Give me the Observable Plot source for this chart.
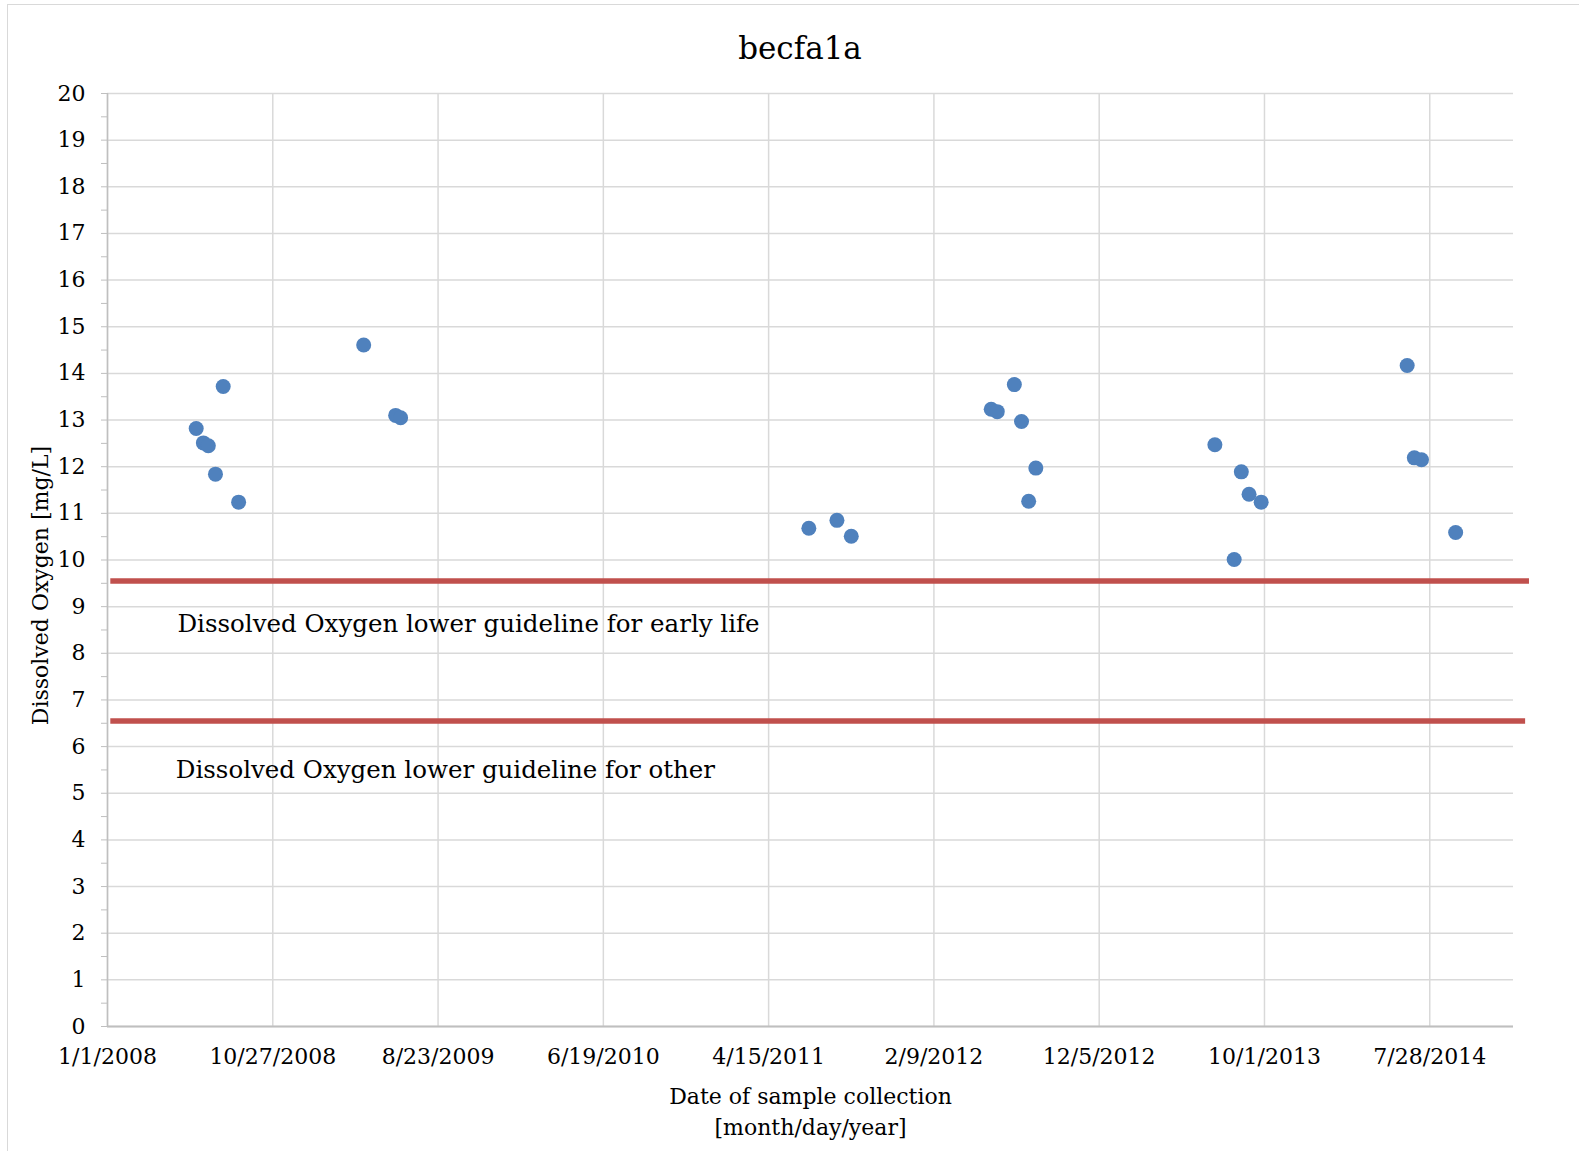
<!DOCTYPE html>
<html>
<head>
<meta charset="utf-8">
<script src="https://cdn.jsdelivr.net/npm/d3@7"></script>
<script src="https://cdn.jsdelivr.net/npm/@observablehq/plot@0.6"></script>
<style>
  html, body { margin: 0; padding: 0; background: #fff; }
  #page { position: relative; width: 1579px; height: 1151px; overflow: hidden; font-family: "DejaVu Serif", serif; }
  #frame { position: absolute; left: 7px; top: 4px; right: -10px; bottom: -10px; border-left: 1.5px solid #d9d9d9; border-top: 1.5px solid #d9d9d9; }
  #title { position: absolute; left: 0; top: 0; width: 1579px; height: 80px; }
  #title span { position: absolute; left: 800px; top: 33px; transform: translateX(-50%); font-size: 31px; line-height: 31px; color: #000; white-space: nowrap; }
  #chart { position: absolute; left: 0; top: 80px; }
</style>
</head>
<body>
<div id="page">
  <div id="frame"></div>
  <div id="title"><span>becfa1a</span></div>
  <div id="chart"></div>
</div>
<script>
// Sampling dates and dissolved oxygen readings (mg/L)
const sampleDates = [
  "2008-06-10", "2008-06-23", "2008-07-02", "2008-07-29", "2008-07-15", "2008-08-26",
  "2009-04-10", "2009-06-07", "2009-06-16",
  "2011-06-27", "2011-08-17", "2011-09-12",
  "2012-05-23", "2012-06-03", "2012-07-04", "2012-07-17", "2012-08-12", "2012-07-30",
  "2013-07-03", "2013-08-20", "2013-08-07", "2013-09-03", "2013-09-25",
  "2014-06-17", "2014-06-30", "2014-07-13", "2014-09-13"
];
const dissolvedOxygen = [
  12.82, 12.51, 12.45, 13.72, 11.84, 11.24,
  14.61, 13.10, 13.05,
  10.68, 10.85, 10.51,
  13.23, 13.18, 13.76, 12.97, 11.97, 11.26,
  12.47, 11.89, 10.01, 11.41, 11.24,
  14.17, 12.19, 12.15, 10.59
];

// Guideline levels and the date span each line covers
const guidelineLevels = [9.55, 6.55];
const guidelineStart = ["2008-01-07", "2008-01-07"];
const guidelineEnd = ["2015-01-25", "2015-01-18"];
const guidelineLabels = [
  "Dissolved Oxygen lower guideline for early life",
  "Dissolved Oxygen lower guideline for other"
];
const guidelineLabelDates = ["2008-05-07", "2008-05-04"];
const guidelineLabelLevels = [8.63, 5.50];

// Axis ticks
const xTickLabels = ["1/1/2008", "10/27/2008", "8/23/2009", "6/19/2010", "4/15/2011",
                     "2/9/2012", "12/5/2012", "10/1/2013", "7/28/2014"];
const yTicks = d3.range(0, 21, 1);
const yMinorTicks = d3.range(0.5, 20, 1);
const xDomain = ["2008-01-01", "2014-12-27"];
const yDomain = [0, 20];

const parseTick = d3.utcParse("%m/%d/%Y");
const xTicks = xTickLabels.map(parseTick);
const toDate = s => new Date(s + "T00:00:00Z");

const samples = sampleDates.map((d, i) => ({date: toDate(d), value: dissolvedOxygen[i]}));
const guidelines = guidelineLevels.map((v, i) => ({
  level: v, start: toDate(guidelineStart[i]), end: toDate(guidelineEnd[i])
}));
const notes = guidelineLabels.map((t, i) => ({
  text: t, date: toDate(guidelineLabelDates[i]), level: guidelineLabelLevels[i]
}));

const gridColor = "#d9d9d9";
const axisColor = "#bfbfbf";

const chart = Plot.plot({
  width: 1579,
  height: 1071,
  marginTop: 13,
  marginBottom: 125,
  marginLeft: 107,
  marginRight: 66,
  style: {fontFamily: "DejaVu Serif, serif", background: "transparent", color: "#000"},
  x: {type: "utc", domain: xDomain.map(toDate)},
  y: {domain: yDomain},
  marks: [
    Plot.gridY(yTicks, {stroke: gridColor, strokeOpacity: 1, strokeWidth: 1.5}),
    Plot.gridX(xTicks, {stroke: gridColor, strokeOpacity: 1, strokeWidth: 1.5}),
    Plot.ruleX([toDate(xDomain[0])], {stroke: axisColor, strokeWidth: 1.5}),
    Plot.ruleY([0], {stroke: axisColor, strokeWidth: 2}),
    Plot.axisY(yTicks, {
      tickSize: 6, tickPadding: 16, stroke: axisColor, fill: "#000",
      fontSize: 22, label: null, tickFormat: d => String(d)
    }),
    Plot.axisY(yMinorTicks, {
      tickSize: 6, stroke: axisColor, label: null, tickFormat: () => ""
    }),
    Plot.axisX(xTicks, {
      tickSize: 0, tickPadding: 22, fill: "#000", fontSize: 22, label: null,
      tickFormat: d3.utcFormat("%-m/%-d/%Y")
    }),
    Plot.ruleY(guidelines, {
      y: "level", x1: "start", x2: "end",
      stroke: "#c0504d", strokeWidth: 5.5, clip: false
    }),
    Plot.text(notes, {
      x: "date", y: "level", text: "text", textAnchor: "start",
      fontSize: 24.5, fill: "#000"
    }),
    Plot.dot(samples, {x: "date", y: "value", r: 7.5, fill: "#4f81bd", stroke: "none"}),
    Plot.text(["Dissolved Oxygen [mg/L]"], {
      frameAnchor: "left", dx: -67, dy: 25.5, rotate: -90,
      textAnchor: "middle", lineAnchor: "middle", fontSize: 22, fill: "#000"
    }),
    Plot.text(["Date of sample collection\n[month/day/year]"], {
      frameAnchor: "bottom", dy: 83.5, textAnchor: "middle", lineAnchor: "middle",
      lineHeight: 1.41, fontSize: 22, fill: "#000"
    })
  ]
});

document.getElementById("chart").appendChild(chart);
</script>
</body>
</html>
